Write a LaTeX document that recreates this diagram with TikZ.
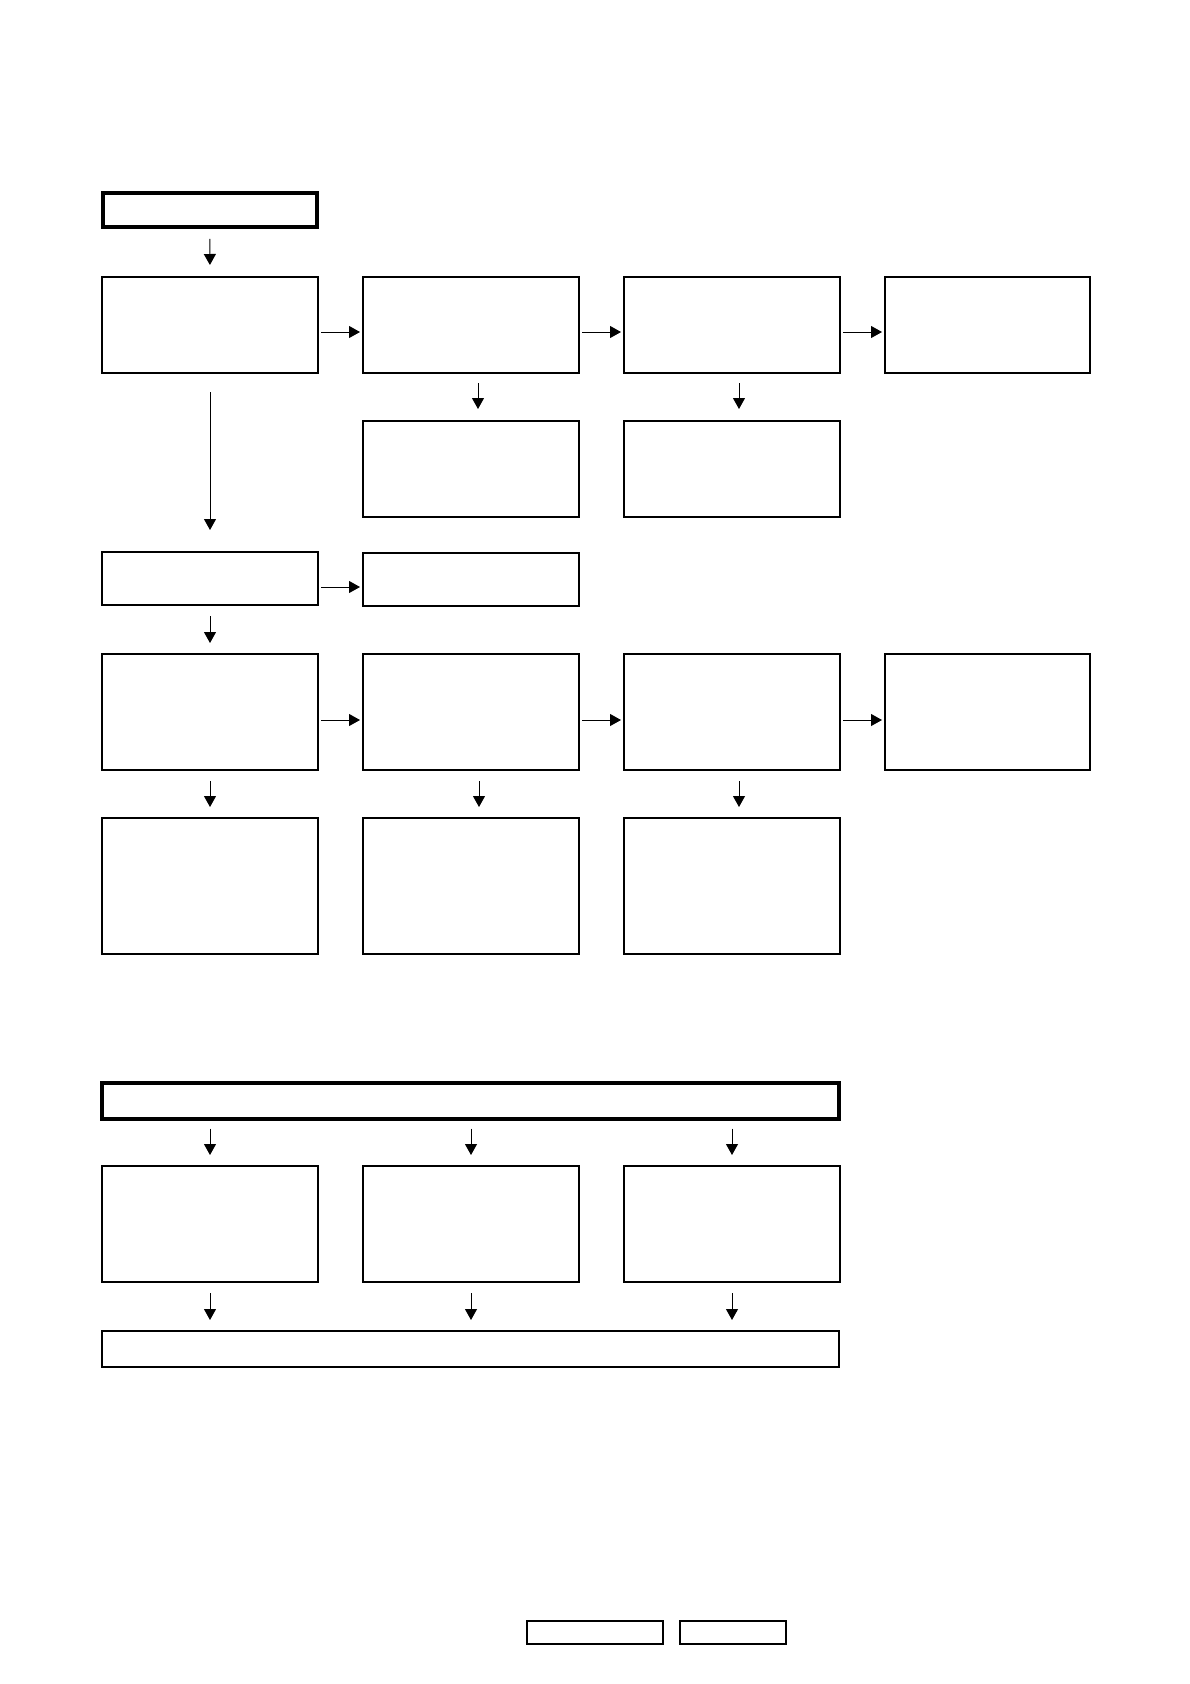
\documentclass[tikz,border=0pt]{standalone}
\usetikzlibrary{arrows.meta}
\begin{document}
\begin{tikzpicture}[x=1pt,y=-1pt,
  box/.style={draw, line width=1.1pt, inner sep=0pt, outer sep=0pt},
  thickbox/.style={draw, line width=4pt, inner sep=0pt, outer sep=0pt},
  arr/.style={line width=1pt, -{Triangle[length=11pt,width=12pt]}}]
\fill[white] (0,0) rectangle (1190,1684);
\useasboundingbox (0,0) rectangle (1190,1684);
% top section
\node[thickbox, minimum width=214pt, minimum height=34.6pt] (t1) at (209.7,210) {};
\node[box, minimum width=216pt, minimum height=96pt] (r1c1) at (210,325) {};
\node[box, minimum width=216pt, minimum height=96pt] (r1c2) at (471,325) {};
\node[box, minimum width=216pt, minimum height=96pt] (r1c3) at (732,325) {};
\node[box, minimum width=205pt, minimum height=96pt] (r1c4) at (987.5,325) {};
\node[box, minimum width=216pt, minimum height=96pt] (r2c2) at (471,469) {};
\node[box, minimum width=216pt, minimum height=96pt] (r2c3) at (732,469) {};
\node[box, minimum width=216pt, minimum height=53pt] (r3c1) at (210,578.5) {};
\node[box, minimum width=216pt, minimum height=53pt] (r3c2) at (471,579.5) {};
\node[box, minimum width=216pt, minimum height=116pt] (r4c1) at (210,712) {};
\node[box, minimum width=216pt, minimum height=116pt] (r4c2) at (471,712) {};
\node[box, minimum width=216pt, minimum height=116pt] (r4c3) at (732,712) {};
\node[box, minimum width=205pt, minimum height=116pt] (r4c4) at (987.5,712) {};
\node[box, minimum width=216pt, minimum height=136pt] (r5c1) at (210,886) {};
\node[box, minimum width=216pt, minimum height=136pt] (r5c2) at (471,886) {};
\node[box, minimum width=216pt, minimum height=136pt] (r5c3) at (732,886) {};
% bottom section
\node[thickbox, minimum width=736.7pt, minimum height=35.7pt] (t2) at (470.35,1100.85) {};
\node[box, minimum width=216pt, minimum height=116pt] (r6c1) at (210,1224) {};
\node[box, minimum width=216pt, minimum height=116pt] (r6c2) at (471,1224) {};
\node[box, minimum width=216pt, minimum height=116pt] (r6c3) at (732,1224) {};
\node[box, minimum width=737pt, minimum height=36pt] (w) at (470.5,1349) {};
% footer boxes
\node[box, minimum width=136pt, minimum height=23pt] (fa) at (595,1632.5) {};
\node[box, minimum width=106pt, minimum height=23pt] (fb) at (733,1632.5) {};
% horizontal connectors
\draw[arr, shorten <=3pt, shorten >=3pt] ([yshift=-7pt]r1c1.east) -- ([yshift=-7pt]r1c2.west);
\draw[arr, shorten <=3pt, shorten >=3pt] ([yshift=-7pt]r1c2.east) -- ([yshift=-7pt]r1c3.west);
\draw[arr, shorten <=3pt, shorten >=3pt] ([yshift=-7pt]r1c3.east) -- ([yshift=-7pt]r1c4.west);
\draw[arr, shorten <=3pt, shorten >=3pt] ([yshift=-8.5pt]r3c1.east) -- ([yshift=-8.5pt]r3c1.east -| r3c2.west);
\draw[arr, shorten <=3pt, shorten >=3pt] ([yshift=-8pt]r4c1.east) -- ([yshift=-8pt]r4c2.west);
\draw[arr, shorten <=3pt, shorten >=3pt] ([yshift=-8pt]r4c2.east) -- ([yshift=-8pt]r4c3.west);
\draw[arr, shorten <=3pt, shorten >=3pt] ([yshift=-8pt]r4c3.east) -- ([yshift=-8pt]r4c4.west);
% vertical connectors, top section
\draw[arr, shorten <=11.5pt, shorten >=12pt] (t1.south) -- (r1c1.north);
\draw[arr, shorten <=10pt, shorten >=12pt] ([xshift=7pt]r1c2.south) -- ([xshift=7pt]r2c2.north);
\draw[arr, shorten <=10pt, shorten >=12pt] ([xshift=7pt]r1c3.south) -- ([xshift=7pt]r2c3.north);
\draw[arr, shorten <=19pt, shorten >=22pt] (r1c1.south) -- (r3c1.north);
\draw[arr, shorten <=11pt, shorten >=11pt] (r3c1.south) -- (r4c1.north);
\draw[arr, shorten <=11pt, shorten >=11pt] (r4c1.south) -- (r5c1.north);
\draw[arr, shorten <=11pt, shorten >=11pt] ([xshift=8pt]r4c2.south) -- ([xshift=8pt]r5c2.north);
\draw[arr, shorten <=11pt, shorten >=11pt] ([xshift=7pt]r4c3.south) -- ([xshift=7pt]r5c3.north);
% vertical connectors, bottom section
\draw[arr, shorten <=10pt, shorten >=11pt] (r6c1.north |- t2.south) -- (r6c1.north);
\draw[arr, shorten <=10pt, shorten >=11pt] (r6c2.north |- t2.south) -- (r6c2.north);
\draw[arr, shorten <=10pt, shorten >=11pt] (r6c3.north |- t2.south) -- (r6c3.north);
\draw[arr, shorten <=11pt, shorten >=11pt] (r6c1.south) -- (r6c1.south |- w.north);
\draw[arr, shorten <=11pt, shorten >=11pt] (r6c2.south) -- (r6c2.south |- w.north);
\draw[arr, shorten <=11pt, shorten >=11pt] (r6c3.south) -- (r6c3.south |- w.north);
\end{tikzpicture}
\end{document}
